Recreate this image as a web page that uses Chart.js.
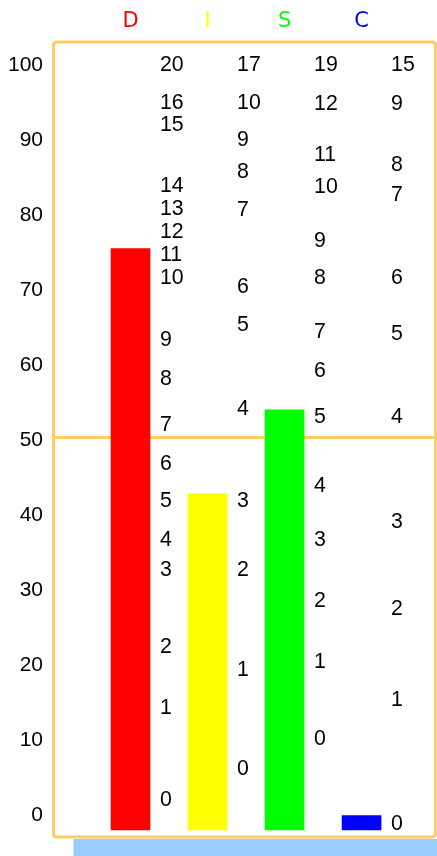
<!DOCTYPE html>
<html>
<head>
<meta charset="utf-8">
<script src="https://cdn.jsdelivr.net/npm/chart.js@4.4.1/dist/chart.umd.min.js"></script>
<style>
  html, body { margin: 0; padding: 0; background: #fff; }
  #wrap { width: 437px; height: 856px; position: relative; }
</style>
</head>
<body>
<div id="wrap"><canvas id="discChart"></canvas></div>
<script>
const factors = ['D', 'I', 'S', 'C'];
const factorColors = ['#ff0000', '#ffff00', '#00ff00', '#0000ff'];
const barTops = [75.2, 42.5, 53.7, -0.4];
const barBase = -2.3;
const yTicks = [0, 10, 20, 30, 40, 50, 60, 70, 80, 90, 100];
const midLine = 50;

// printed segment numbers per column and the level they sit at
const dNumbers = [20, 16, 15, 14, 13, 12, 11, 10, 9, 8, 7, 6, 5, 4, 3, 2, 1, 0];
const dLevels = [100, 94.9, 91.9, 83.8, 80.8, 77.7, 74.6, 71.5, 63.3, 58.1, 51.9, 46.8, 41.8, 36.6, 32.6, 22.4, 14.2, 2.0];
const iNumbers = [17, 10, 9, 8, 7, 6, 5, 4, 3, 2, 1, 0];
const iLevels = [100, 94.9, 89.9, 85.7, 80.6, 70.4, 65.3, 54.1, 41.8, 32.6, 19.3, 6.1];
const sNumbers = [19, 12, 11, 10, 9, 8, 7, 6, 5, 4, 3, 2, 1, 0];
const sLevels = [100, 94.8, 87.9, 83.7, 76.5, 71.5, 64.3, 59.1, 53.0, 43.8, 36.6, 28.5, 20.4, 10.1];
const cNumbers = [15, 9, 8, 7, 6, 5, 4, 3, 2, 1, 0];
const cLevels = [100, 94.8, 86.6, 82.6, 71.5, 64.1, 53.0, 39.0, 27.4, 15.3, -1.2];

const columns = [
  { numbers: dNumbers, levels: dLevels },
  { numbers: iNumbers, levels: iLevels },
  { numbers: sNumbers, levels: sLevels },
  { numbers: cNumbers, levels: cLevels },
];

const frameColor = '#ffcc66';

const framePlugin = {
  id: 'frame',
  afterDraw(chart) {
    const { ctx, chartArea } = chart;
    ctx.save();
    // light blue strip under the frame
    ctx.fillStyle = '#99ccff';
    ctx.fillRect(chartArea.left + 20, chartArea.bottom + 2, chart.width - chartArea.left - 20, chart.height - chartArea.bottom - 2);
    ctx.strokeStyle = frameColor;
    ctx.lineWidth = 3;
    ctx.beginPath();
    ctx.roundRect(chartArea.left, chartArea.top, chartArea.right - chartArea.left, chartArea.bottom - chartArea.top, 3);
    ctx.stroke();
    ctx.restore();
  },
};

const numbersPlugin = {
  id: 'segNumbers',
  afterDatasetsDraw(chart) {
    const { ctx } = chart;
    const xs = chart.scales.x;
    const ys = chart.scales.y;
    ctx.save();
    ctx.fillStyle = '#000';
    ctx.font = '21.3px "Liberation Sans", Arial, sans-serif';
    ctx.textAlign = 'left';
    ctx.textBaseline = 'middle';
    columns.forEach((col, i) => {
      const x = xs.getPixelForValue(i + 1) + 29.5;
      col.numbers.forEach((n, j) => {
        // +2 so the digits' visual centre sits on the level
        ctx.fillText(String(n), x, ys.getPixelForValue(col.levels[j]) + 2);
      });
    });
    ctx.restore();
  },
};

const chart = new Chart(document.getElementById('discChart'), {
  type: 'bar',
  data: {
    datasets: [
      {
        label: 'DISC',
        data: factors.map((f, i) => ({ x: i + 1, y: [barBase, barTops[i]] })),
        backgroundColor: factorColors,
        borderWidth: 0,
        barThickness: 39,
      },
    ],
  },
  options: {
    animation: false,
    responsive: true,
    maintainAspectRatio: false,
    layout: {
      padding: { top: 0, right: 1.5, bottom: 19, left: 0 },
    },
    scales: {
      x: {
        type: 'linear',
        position: 'top',
        offset: false,
        min: 0,
        max: 4.96,
        afterBuildTicks: (scale) => {
          scale.ticks = factors.map((f, i) => ({ value: i + 1 }));
        },
        afterFit: (scale) => {
          scale.height = 42;
          scale.paddingLeft = 0;
          scale.paddingRight = 0;
        },
        grid: { display: false, drawTicks: false, offset: false },
        border: { display: false },
        ticks: {
          autoSkip: false,
          maxRotation: 0,
          padding: 8,
          callback: (value, index) => factors[index],
          color: (c) => factorColors[c.index],
          font: { family: '"DejaVu Sans", Verdana, sans-serif', size: 21 },
        },
      },
      y: {
        min: -3.24,
        max: 102.76,
        afterBuildTicks: (scale) => {
          scale.ticks = yTicks.map((v) => ({ value: v }));
        },
        afterFit: (scale) => {
          scale.width = 53.5;
          scale.paddingTop = 0;
          scale.paddingBottom = 0;
        },
        grid: {
          drawTicks: false,
          color: (c) => (c.tick && c.tick.value === midLine ? frameColor : 'rgba(0,0,0,0)'),
          lineWidth: 3,
        },
        border: { display: false },
        ticks: {
          padding: 10.5,
          labelOffset: 2.5,
          color: '#000',
          font: { family: '"Liberation Sans", Arial, sans-serif', size: 21 },
        },
      },
    },
    plugins: {
      legend: { display: false },
      tooltip: { enabled: false },
    },
  },
  plugins: [framePlugin, numbersPlugin],
});
</script>
</body>
</html>
